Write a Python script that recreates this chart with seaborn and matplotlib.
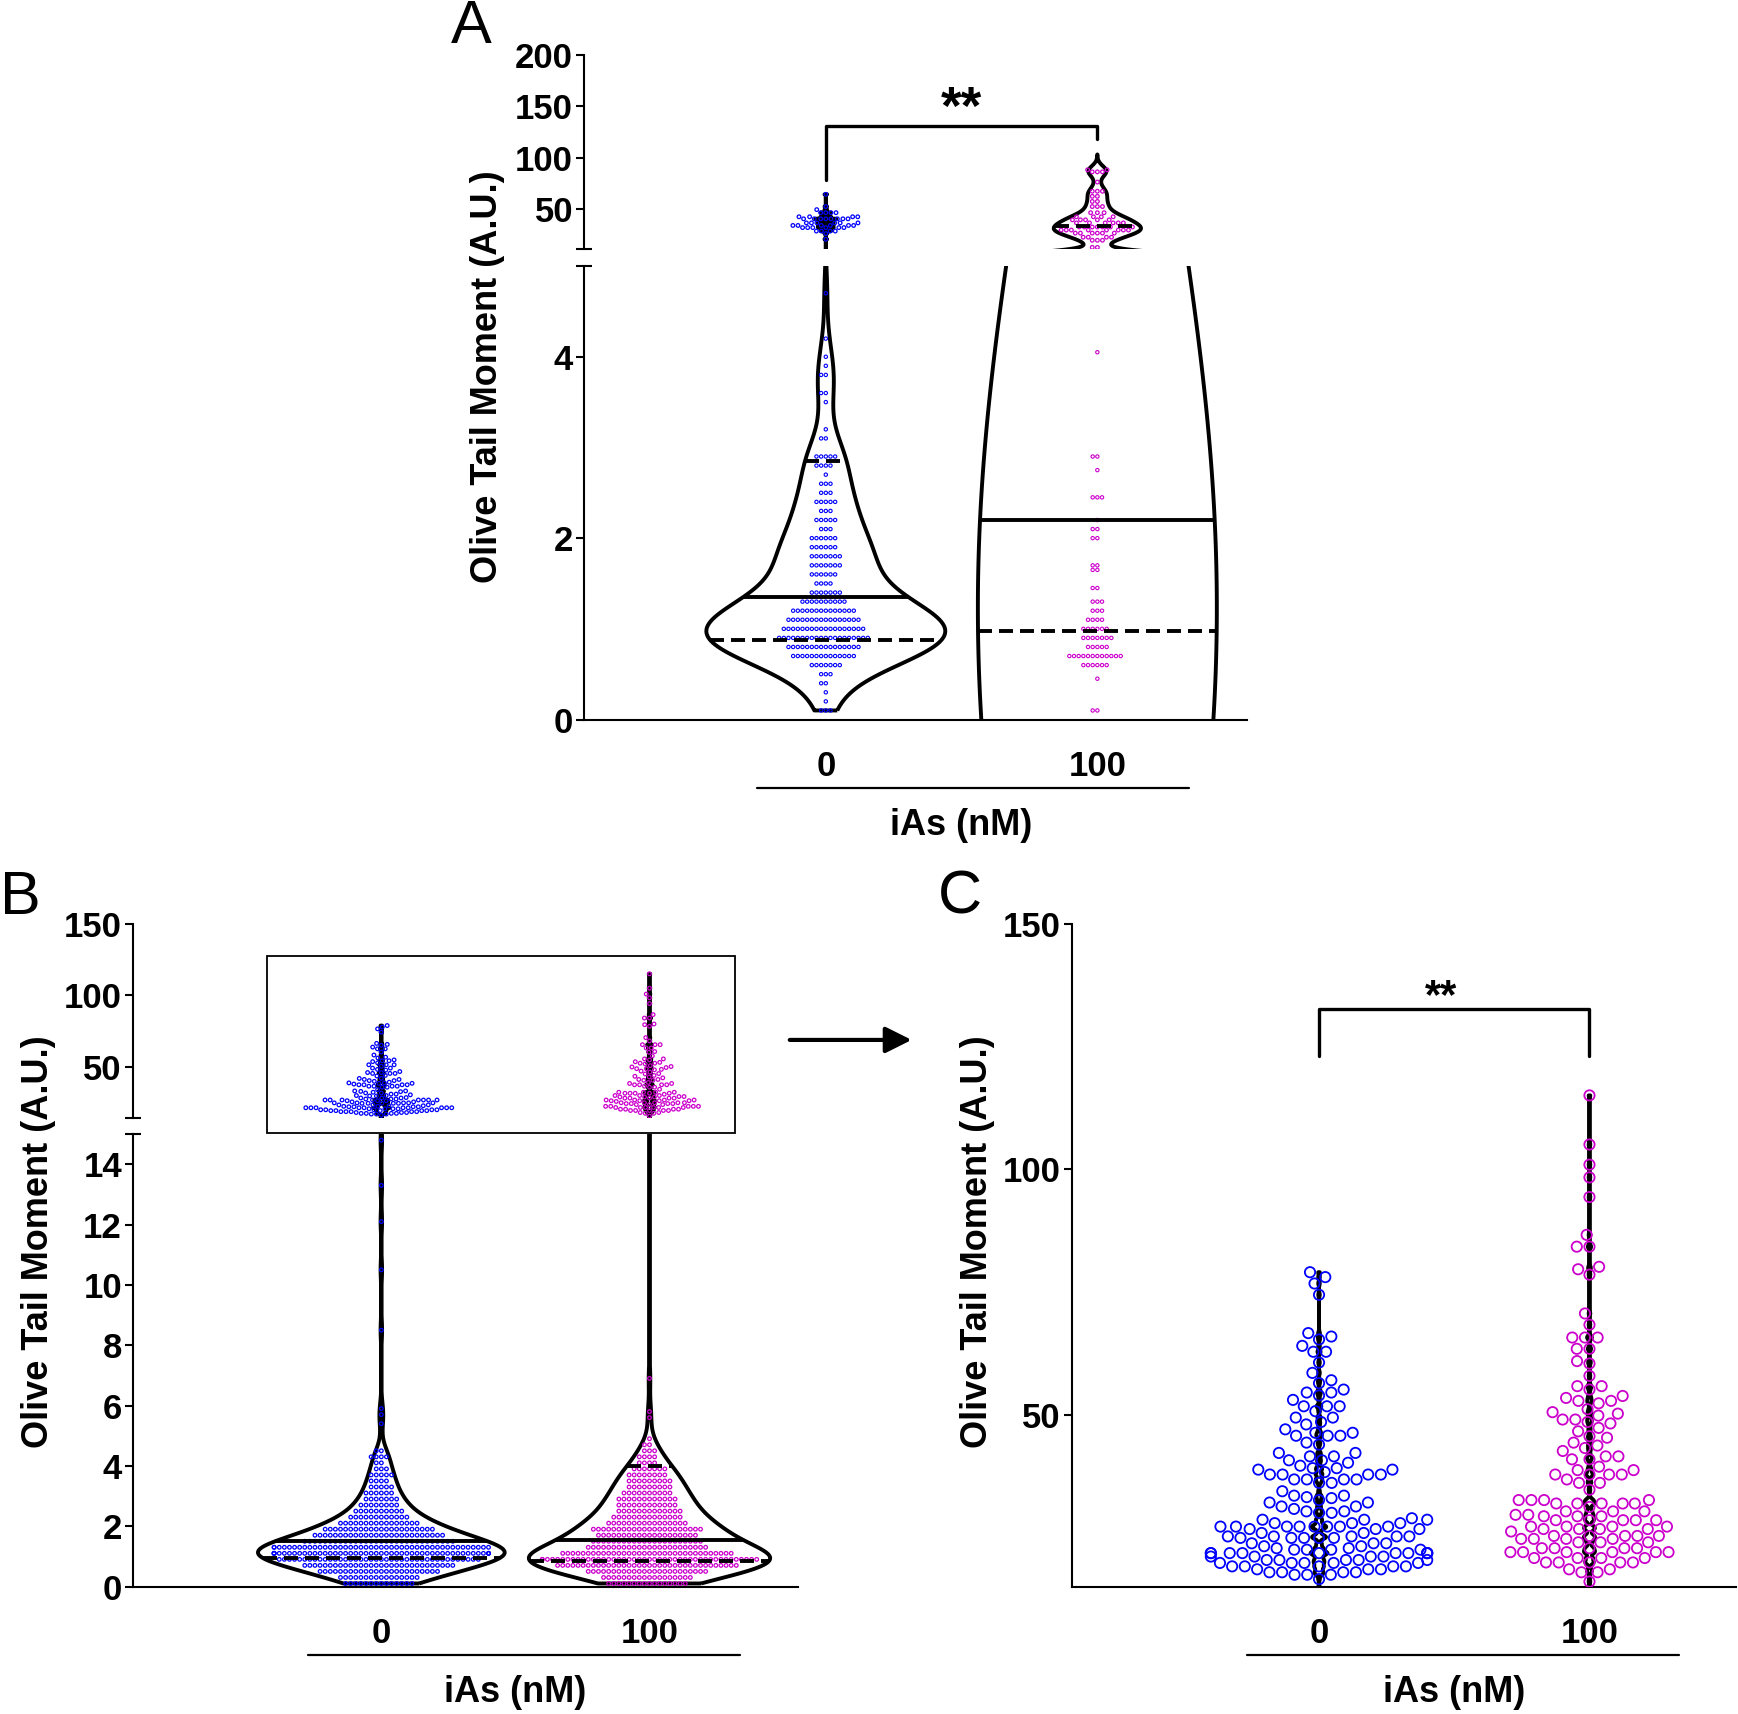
import numpy as np
import matplotlib
matplotlib.use("Agg")
import matplotlib.pyplot as plt
import matplotlib.transforms as mtransforms
from matplotlib.patches import Rectangle, FancyArrowPatch
import seaborn as sns

# categories on the x axis
groups = ["0", "100"]

# ---- values: value and how many cells sit at it ----
# panel A, lower segment (0-5)
a_lo0_vals = [0.1, 0.2, 0.3, 0.4, 0.5, 0.6, 0.7, 0.8, 0.9, 1.0,
              1.1, 1.2, 1.3, 1.4, 1.5, 1.6, 1.7, 1.8, 1.9, 2.0,
              2.1, 2.2, 2.3, 2.4, 2.5, 2.6, 2.7, 2.8, 2.9, 3.1,
              3.2, 3.5, 3.6, 3.8, 3.9, 4.0, 4.2, 4.7]
a_lo0_n = [3, 1, 1, 2, 3, 7, 14, 16, 20, 18,
           16, 14, 10, 7, 4, 6, 7, 7, 6, 6,
           3, 5, 3, 5, 3, 3, 1, 4, 5, 2,
           1, 1, 2, 2, 1, 1, 1, 1]
a_lo100_vals = [0.1, 0.45, 0.6, 0.7, 0.8, 0.9, 1.0, 1.1, 1.2, 1.3,
                1.45, 1.65, 1.7, 2.0, 2.1, 2.2, 2.45, 2.75, 2.9, 4.05]
a_lo100_n = [2, 1, 6, 12, 5, 7, 6, 4, 3, 3, 2, 2, 2, 2, 2, 1, 3, 1, 2, 1]
# panel A, upper segment
a_hi0_vals = [20, 25.5, 28, 31.4, 33.5, 36, 40, 42, 46, 49, 52, 64]
a_hi0_n = [1, 1, 4, 6, 6, 6, 8, 4, 4, 1, 1, 1]
a_hi100_vals = [12, 19, 22, 26, 29, 32, 36, 39, 42, 46, 52, 57, 62, 67, 76, 86, 88]
a_hi100_n = [2, 3, 4, 6, 8, 7, 6, 5, 4, 3, 3, 2, 2, 3, 1, 3, 2]

# panel B, lower segment (0-15)
b_lo0_vals = [0.1, 0.3, 0.5, 0.7, 0.9, 1.1, 1.3, 1.5, 1.7, 1.9,
              2.1, 2.3, 2.5, 2.7, 2.9, 3.1, 3.3, 3.5, 3.7, 3.9,
              4.1, 4.3, 4.5, 5.4, 5.7, 5.9, 8.5, 10.5, 12.1, 13.3, 14.8]
b_lo0_n = [14, 16, 24, 30, 40, 48, 44, 30, 26, 22,
           16, 12, 10, 8, 7, 6, 5, 4, 5, 3,
           2, 4, 2, 1, 1, 1, 1, 1, 1, 1, 1]
b_lo100_vals = [0.1, 0.3, 0.5, 0.7, 0.9, 1.1, 1.3, 1.5, 1.7, 1.9,
                2.1, 2.3, 2.5, 2.7, 2.9, 3.1, 3.3, 3.5, 3.7, 3.9,
                4.1, 4.3, 4.5, 4.7, 4.9, 5.6, 5.8, 6.9]
b_lo100_n = [16, 18, 24, 36, 44, 34, 24, 22, 20, 22,
             16, 14, 13, 12, 12, 10, 9, 9, 8, 7,
             4, 4, 3, 2, 1, 1, 1, 1]

# panel C (= upper segment of panel B)
c0_vals = [16.5, 17.4, 17.9, 18.5, 19.1, 19.8, 20.4, 21.1, 21.8, 22.5,
           22.8, 23.2, 23.8, 24.9, 25.2, 25.9, 26.7, 27.2, 27.9, 28.6,
           28.9, 30, 30.3, 30.8, 31.3, 32.1, 32.6, 33, 33.2, 33.5,
           34.4, 36.1, 36.8, 37.8, 38.3, 38.8, 39.1, 39.6, 40.2, 40.7,
           41.5, 42.2, 43.9, 44.3, 45.7, 46.3, 47, 48, 48.5, 49.4,
           50.7, 51.7, 53, 53.9, 54.5, 55.1, 56.4, 57, 58.5, 60.6,
           62.8, 64, 65.3, 65.9, 66.6, 74.4, 76.7, 78, 79]
c0_n = [1, 3, 4, 3, 5, 5, 5, 4, 10, 4,
        2, 2, 3, 5, 5, 2, 3, 8, 3, 3,
        1, 2, 2, 1, 2, 2, 1, 1, 1, 2,
        1, 2, 4, 4, 1, 2, 2, 1, 1, 2,
        2, 2, 1, 1, 3, 2, 1, 1, 1, 2,
        1, 3, 1, 1, 2, 1, 1, 1, 1, 1,
        2, 1, 1, 1, 1, 1, 1, 1, 1]
c100_vals = [16, 17.9, 18.5, 19.9, 20.8, 22, 22.8, 24, 24.7, 25.3,
             26.2, 26.7, 27.2, 28.5, 29.3, 29.6, 30.3, 31.2, 31.9, 32.6,
             34.7, 36.1, 36.8, 37.8, 38.7, 39.4, 40.9, 41.5, 42.6, 43.2,
             43.7, 44.3, 45.3, 45.6, 46.6, 47.3, 48.2, 48.5, 49, 49.8,
             50.2, 50.5, 51.1, 52.3, 52.8, 53.4, 53.8, 55.1, 55.8, 57.9,
             60.4, 60.9, 63.4, 65.7, 68.3, 70.6, 78.5, 79.6, 80.1, 84.2,
             86.6, 94.3, 98.3, 100.9, 105, 115]
c100_n = [1, 2, 2, 5, 4, 6, 5, 3, 4, 5,
          1, 4, 4, 5, 3, 2, 3, 1, 5, 4,
          1, 2, 1, 4, 2, 1, 2, 2, 1, 1,
          1, 1, 1, 1, 1, 1, 1, 1, 2, 1,
          1, 1, 1, 1, 2, 1, 1, 1, 2, 1,
          1, 1, 2, 3, 1, 1, 1, 1, 1, 2,
          1, 1, 1, 1, 1, 1]

# horizontal lines drawn across the violins
a0_dash, a0_solid = [0.88, 2.85], [1.35]
a100_dash, a100_solid = [0.98, 33], [2.2]
b0_dash, b0_solid = [0.95], [1.5]
b100_dash, b100_solid = [0.85, 4.0], [1.55]

BLUE = "#0000ff"
MAG = "#cc00cc"

sns.set_style("ticks", {"axes.edgecolor": "black", "xtick.color": "black",
                        "ytick.color": "black", "text.color": "black",
                        "axes.labelcolor": "black"})
plt.rcParams["font.family"] = ["Liberation Sans", "DejaVu Sans"]
plt.rcParams["font.weight"] = "bold"


def expand(vals, n):
    return np.repeat(np.asarray(vals, dtype=float), n)


a_lo0, a_lo100 = expand(a_lo0_vals, a_lo0_n), expand(a_lo100_vals, a_lo100_n)
a_hi0, a_hi100 = expand(a_hi0_vals, a_hi0_n), expand(a_hi100_vals, a_hi100_n)
b_lo0, b_lo100 = expand(b_lo0_vals, b_lo0_n), expand(b_lo100_vals, b_lo100_n)
c0, c100 = expand(c0_vals, c0_n), expand(c100_vals, c100_n)
a_all0 = np.concatenate([a_lo0, a_hi0])
a_all100 = np.concatenate([a_lo100, a_hi100])
b_all0 = np.concatenate([b_lo0, c0])
b_all100 = np.concatenate([b_lo100, c100])


def draw_violin(ax, vals, pos, bw, width, cut, dash, solid):
    n0 = len(ax.collections)
    sns.violinplot(x=[groups[pos]] * len(vals), y=vals, order=groups, color="black",
                   fill=False, inner=None, cut=cut, gridsize=3000,
                   bw_method=bw / np.std(vals, ddof=1), density_norm="width",
                   width=width, linewidth=2.8, ax=ax)
    v = ax.collections[n0].get_paths()[0].vertices
    r = v[v[:, 0] > pos + 1e-9]
    r = r[np.argsort(r[:, 1])]
    for levels, ls in ((dash, (0, (3.6, 1.8))), (solid, "-")):
        for y in levels:
            hw = np.interp(y, r[:, 1], r[:, 0]) - pos
            ax.plot([pos - hw, pos + hw], [y, y], color="black", lw=2.8, ls=ls,
                    solid_capstyle="butt", zorder=4)


def draw_swarm(ax, vals, pos, color, size, lw):
    sns.swarmplot(x=[groups[pos]] * len(vals), y=vals, order=groups, color=color,
                  facecolors="none", edgecolor=color, linewidth=lw, size=size,
                  warn_thresh=1, ax=ax)


def style(ax, yticks, ylim, xlim, brk=None, bottom=True):
    ax.set_ylim(*ylim)
    ax.set_xlim(*xlim)
    ax.set_yticks(yticks)
    ax.set_yticklabels([str(t) for t in yticks])
    if brk is not None:
        ax.set_yticks([brk], minor=True)
        ax.tick_params(axis="y", which="minor", direction="inout", length=11, width=1.5)
    ax.tick_params(axis="y", which="major", direction="out", length=6, width=1.5,
                   pad=2, labelsize=25)
    ax.spines[["top", "right"]].set_visible(False)
    ax.spines["left"].set_linewidth(1.5)
    if bottom:
        ax.spines["bottom"].set_linewidth(1.5)
        ax.tick_params(axis="x", length=0, pad=22, labelsize=25)
    else:
        ax.spines["bottom"].set_visible(False)
        ax.tick_params(axis="x", bottom=False, labelbottom=False)
    ax.set_xlabel("")
    ax.set_ylabel("")


def caption(ax, y_line, y_text, x0, x1):
    trans = mtransforms.blended_transform_factory(ax.transData, ax.transAxes)
    ax.plot([x0, x1], [y_line, y_line], transform=trans, color="black", lw=1.6,
            clip_on=False)
    ax.text(0.5, y_text, "iAs (nM)", transform=trans, ha="center", va="center",
            fontsize=26, fontweight="bold")


fig = plt.figure(figsize=(17.38, 17.14), dpi=100)
W, H = 1568, 1546


def box(l, t, r, b):
    return [l / W, 1 - b / H, (r - l) / W, (b - t) / H]


axA_hi = fig.add_axes(box(527, 50, 1125, 225))
axA_lo = fig.add_axes(box(527, 240, 1125, 649))
axB_hi = fig.add_axes(box(120, 833, 720, 1008))
axB_lo = fig.add_axes(box(120, 1023, 720, 1431))
axC = fig.add_axes(box(967, 833, 1566, 1431))

# ---- panel A ----
for ax in (axA_hi, axA_lo):
    draw_violin(ax, a_all0, 0, 0.25, 0.88, 0, a0_dash, a0_solid)
    draw_violin(ax, a_all100, 1, 5.0, 0.88, 3, a100_dash, a100_solid)
draw_swarm(axA_lo, a_lo0, 0, BLUE, 2.4, 0.8)
draw_swarm(axA_lo, a_lo100, 1, MAG, 2.4, 0.8)
draw_swarm(axA_hi, a_hi0, 0, BLUE, 2.6, 0.9)
draw_swarm(axA_hi, a_hi100, 1, MAG, 2.6, 0.9)
style(axA_hi, [50, 100, 150, 200], (10, 200), (-0.89, 1.551), brk=10, bottom=False)
style(axA_lo, [0, 2, 4], (0, 5), (-0.89, 1.551), brk=5)
axA_hi.plot([0, 0, 1, 1], [78, 131, 131, 118], color="black", lw=2.4, clip_on=False)
axA_hi.text(0.5, 132.5, "**", ha="center", va="baseline", fontsize=38, fontweight="bold")
caption(axA_lo, -0.1516, -0.2347, -0.253, 1.339)

# ---- panel B ----
for ax in (axB_hi, axB_lo):
    draw_violin(ax, b_all0, 0, 0.35, 0.92, 0, b0_dash, b0_solid)
    draw_violin(ax, b_all100, 1, 0.4, 0.9, 0, b100_dash, b100_solid)
draw_swarm(axB_lo, b_lo0, 0, BLUE, 2.6, 0.9)
draw_swarm(axB_lo, b_lo100, 1, MAG, 2.6, 0.9)
draw_swarm(axB_hi, c0, 0, BLUE, 2.6, 0.9)
draw_swarm(axB_hi, c100, 1, MAG, 2.6, 0.9)
style(axB_hi, [50, 100, 150], (15, 150), (-0.926, 1.554), brk=15, bottom=False)
style(axB_lo, [0, 2, 4, 6, 8, 10, 12, 14], (0, 15), (-0.926, 1.554), brk=15)
caption(axB_lo, -0.152, -0.2353, -0.273, 1.339)

# ---- panel C ----
draw_violin(axC, b_all0, 0, 0.35, 0.92, 0, [], [])
draw_violin(axC, b_all100, 1, 0.4, 0.9, 0, [], [])
draw_swarm(axC, c0, 0, BLUE, 7.4, 1.3)
draw_swarm(axC, c100, 1, MAG, 7.4, 1.3)
style(axC, [50, 100, 150], (15, 150), (-0.914, 1.541))
axC.plot([0, 0, 1, 1], [123, 132.6, 132.6, 123], color="black", lw=2.4, clip_on=False)
axC.text(0.45, 132.8, "**", ha="center", va="baseline", fontsize=30, fontweight="bold")
caption(axC, -0.1037, -0.1605, -0.266, 1.332)

# ---- figure level text and marks ----
ylab = "Olive Tail Moment (A.U.)"
fig.text(440 / W, 1 - 340 / H, ylab, rotation=90, ha="center", va="center", fontsize=26)
fig.text(35 / W, 1 - 1120 / H, ylab, rotation=90, ha="center", va="center", fontsize=26)
fig.text(882 / W, 1 - 1120 / H, ylab, rotation=90, ha="center", va="center", fontsize=26)
for lab, x, y in (("A", 425, 25), ("B", 18, 810), ("C", 866, 810)):
    fig.text(x / W, 1 - y / H, lab, ha="center", va="center", fontsize=44,
             fontweight="normal")

fig.add_artist(Rectangle((241 / W, 1 - 1022 / H), (663 - 241) / W, (1022 - 862) / H,
                         transform=fig.transFigure, fill=False, ec="black", lw=1.3))
fig.add_artist(FancyArrowPatch((710 / W, 1 - 938 / H), (825 / W, 1 - 938 / H),
                               transform=fig.transFigure, arrowstyle="-|>",
                               mutation_scale=40, lw=3, color="black"))

fig.savefig("out.png", dpi=100)
